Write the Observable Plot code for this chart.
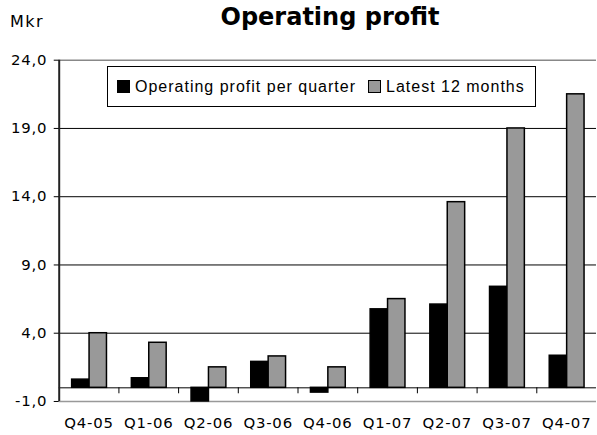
<!DOCTYPE html>
<html>
<head>
<meta charset="utf-8">
<script src="https://cdn.jsdelivr.net/npm/d3@7"></script>
<script src="https://cdn.jsdelivr.net/npm/@observablehq/plot@0.6"></script>
<style>
  html, body { margin: 0; padding: 0; background: #fff; overflow: hidden; }
  #wrap { position: relative; width: 597px; height: 435px; overflow: hidden; }
  #chart { position: absolute; left: 0; top: 0; }
  .title { position: absolute; left: 0; width: 660px; top: 3px; text-align: center; line-height: normal;
           font: bold 24px "DejaVu Sans", Verdana, sans-serif; color: #000; }
  .unit { position: absolute; left: 10px; top: 12px; font: 16px "DejaVu Sans", Verdana, sans-serif; letter-spacing: 1.5px; color: #000; }
  .legend { position: absolute; left: 107px; top: 66px; width: 429px; height: 41px; box-sizing: border-box;
            border: 1px solid #000; background: #fff; display: flex; align-items: center; white-space: nowrap;
            font: 16px "Liberation Sans", Arial, sans-serif; letter-spacing: 1px; color: #000; padding-left: 9px; }
  .sw { display: inline-block; flex: none; width: 11px; height: 11px; border: 1px solid #000; margin-right: 5px; }
  .item { display: flex; flex: none; align-items: center; margin-right: 12px; white-space: nowrap; }
</style>
</head>
<body>
<div id="wrap">
  <div id="chart"></div>
  <div class="title">Operating profit</div>
  <div class="unit">Mkr</div>
  <div class="legend">
    <span class="item"><span class="sw" style="background:#000"></span>Operating profit per quarter</span>
    <span class="item"><span class="sw" style="background:#999"></span>Latest 12 months</span>
  </div>
</div>
<script>
const quarters = ["Q4-05","Q1-06","Q2-06","Q3-06","Q4-06","Q1-07","Q2-07","Q3-07","Q4-07"];
const perQuarter = [0.6, 0.7, -1.0, 1.9, -0.35, 5.75, 6.1, 7.4, 2.35];
const latest12 = [4.0, 3.3, 1.5, 2.3, 1.5, 6.5, 13.6, 19.0, 21.5];
const yTicks = [-1, 4, 9, 14, 19, 24];
const gridTicks = [4, 9, 14, 19];

const rows = quarters.map((q, i) => ({quarter: q, pq: perQuarter[i], l12: latest12[i]}));

const chart = Plot.plot({
  width: 600,
  height: 435,
  marginTop: 60,
  marginBottom: 32,
  marginLeft: 59,
  marginRight: 1,
  style: {fontFamily: "DejaVu Sans, Verdana, sans-serif", fontSize: "15px", letterSpacing: "0.8px", color: "#000", background: "#fff"},
  x: {domain: quarters, padding: 0},
  y: {domain: [-1, 24]},
  marks: [
    Plot.ruleY(gridTicks, {stroke: "#000", strokeWidth: 1}),
    Plot.ruleY([24], {stroke: "#888", strokeWidth: 1.5}),
    Plot.ruleY([-1], {stroke: "#999", strokeWidth: 1.5}),
    Plot.barY(rows, {x: "quarter", y: "pq", fill: "#000", stroke: "#000", strokeWidth: 1.5, insetLeft: 13, insetRight: 29.5}),
    Plot.barY(rows, {x: "quarter", y: "l12", fill: "#999", stroke: "#000", strokeWidth: 1.5, insetLeft: 30.5, insetRight: 12}),
    Plot.ruleY([0], {stroke: "#000", strokeWidth: 1}),
    Plot.ruleX(quarters.slice(1), {x: d => d, dx: -30, y1: 0, y2: 0, insetBottom: -6, stroke: "#000"}),
    Plot.ruleX([quarters[0]], {x: d => d, dx: -30, stroke: "#222", strokeWidth: 2}),
    Plot.axisY({ticks: yTicks, tickFormat: d => d.toFixed(1).replace(".", ","), tickSize: 5, tickPadding: 7, label: null, stroke: "#000"}),
    Plot.axisX({tickSize: 0, tickPadding: 16, label: null})
  ]
});
document.getElementById("chart").appendChild(chart);
</script>
</body>
</html>
